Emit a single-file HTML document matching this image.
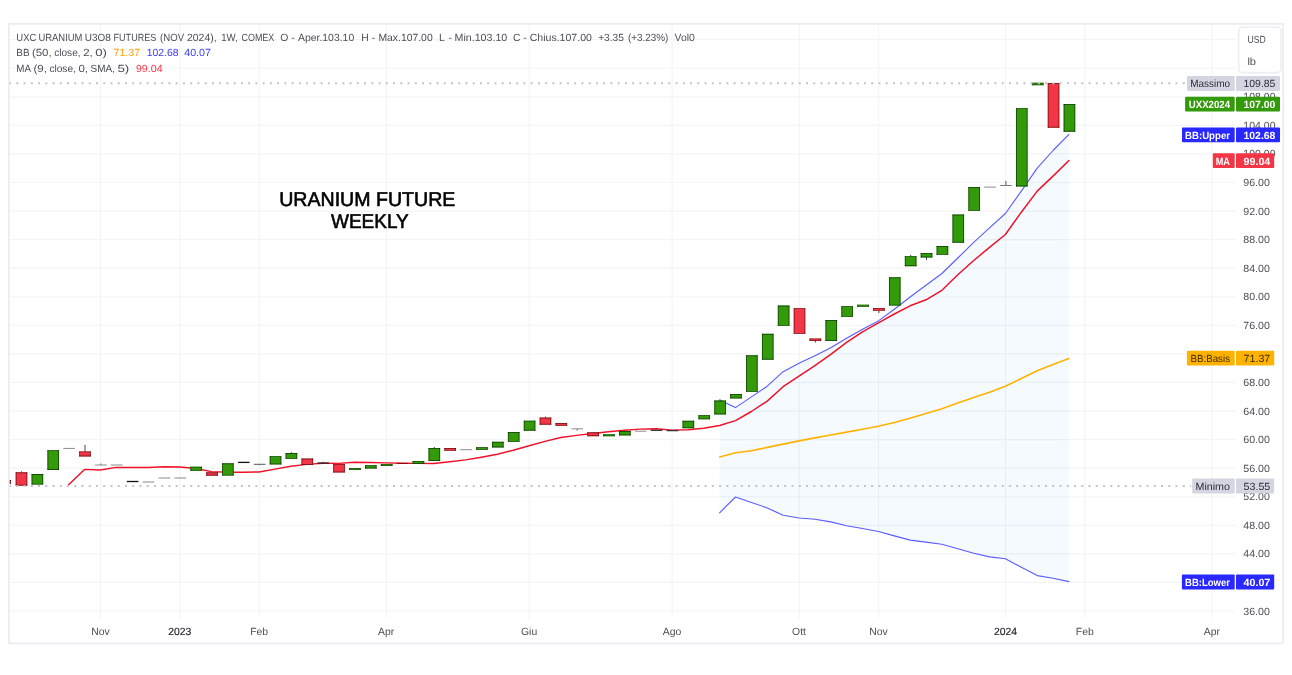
<!DOCTYPE html>
<html lang="it"><head><meta charset="utf-8"><title>UXC Uranium U3O8 Futures - Weekly</title>
<style>html,body{margin:0;padding:0;background:#fff;}body{width:1292px;height:675px;overflow:hidden;}svg{display:block;font-family:"Liberation Sans","DejaVu Sans",sans-serif;font-size:10.4px;text-rendering:geometricPrecision;}.ax{fill:#4c4f57}.b{font-weight:bold}</style></head><body>
<svg width="1292" height="675" viewBox="0 0 1292 675">
<rect width="1292" height="675" fill="#fff"/>
<defs><clipPath id="pane"><rect x="9" y="24" width="1227" height="594.5"/></clipPath></defs>
<g stroke="#f3f4f5" stroke-width="1.2" fill="none">
<path d="M9.5 611.00H1235.5"/>
<path d="M9.5 582.44H1235.5"/>
<path d="M9.5 553.87H1235.5"/>
<path d="M9.5 525.30H1235.5"/>
<path d="M9.5 496.73H1235.5"/>
<path d="M9.5 468.17H1235.5"/>
<path d="M9.5 439.60H1235.5"/>
<path d="M9.5 411.03H1235.5"/>
<path d="M9.5 382.47H1235.5"/>
<path d="M9.5 353.90H1235.5"/>
<path d="M9.5 325.33H1235.5"/>
<path d="M9.5 296.77H1235.5"/>
<path d="M9.5 268.20H1235.5"/>
<path d="M9.5 239.63H1235.5"/>
<path d="M9.5 211.07H1235.5"/>
<path d="M9.5 182.50H1235.5"/>
<path d="M9.5 153.93H1235.5"/>
<path d="M9.5 125.37H1235.5"/>
<path d="M9.5 96.80H1235.5"/>
<path d="M9.5 68.23H1235.5"/>
<path d="M9.5 39.67H1235.5"/>
<path d="M100.51 24.5V618.3"/>
<path d="M179.90 24.5V618.3"/>
<path d="M259.29 24.5V618.3"/>
<path d="M386.31 24.5V618.3"/>
<path d="M529.21 24.5V618.3"/>
<path d="M672.12 24.5V618.3"/>
<path d="M799.14 24.5V618.3"/>
<path d="M878.53 24.5V618.3"/>
<path d="M1005.55 24.5V618.3"/>
<path d="M1084.94 24.5V618.3"/>
<path d="M1211.97 24.5V618.3"/>
</g>
<path d="M719.6 399.9L735.5 407.6L751.4 396.9L767.2 386.2L783.1 371.7L799.0 363.2L814.9 355.8L830.8 347.8L846.6 338.3L862.5 329.2L878.4 320.9L894.3 309.2L910.1 297.0L926.0 285.2L941.9 273.5L957.8 258.0L973.7 242.4L989.5 227.9L1005.4 213.5L1021.3 191.1L1037.2 168.1L1053.0 150.5L1068.9 134.4L1068.9 581.6L1053.0 578.2L1037.2 575.6L1021.3 567.3L1005.4 558.8L989.5 556.9L973.7 553.3L957.8 548.7L941.9 544.3L926.0 542.1L910.1 540.1L894.3 535.9L878.4 531.5L862.5 528.5L846.6 525.7L830.8 521.9L814.9 519.2L799.0 518.0L783.1 515.3L767.2 507.9L751.4 502.4L735.5 497.0L719.6 512.8Z" fill="#2196f3" fill-opacity="0.05"/>
<path d="M719.6 456.9L735.5 452.7L751.4 450.7L767.2 447.4L783.1 444.1L799.0 440.9L814.9 437.9L830.8 435.0L846.6 432.1L862.5 429.2L878.4 426.3L894.3 422.5L910.1 418.2L926.0 413.5L941.9 408.8L957.8 403.1L973.7 397.6L989.5 392.2L1005.4 386.3L1021.3 378.5L1037.2 370.7L1053.0 364.5L1068.9 358.5" fill="none" stroke="#ffb300" stroke-width="1.6" stroke-linejoin="round" stroke-linecap="round"/>
<path d="M719.6 399.9L735.5 407.6L751.4 396.9L767.2 386.2L783.1 371.7L799.0 363.2L814.9 355.8L830.8 347.8L846.6 338.3L862.5 329.2L878.4 320.9L894.3 309.2L910.1 297.0L926.0 285.2L941.9 273.5L957.8 258.0L973.7 242.4L989.5 227.9L1005.4 213.5L1021.3 191.1L1037.2 168.1L1053.0 150.5L1068.9 134.4" fill="none" stroke="#5b5bff" stroke-width="1.1" stroke-linejoin="round" stroke-linecap="round"/>
<path d="M719.6 512.8L735.5 497.0L751.4 502.4L767.2 507.9L783.1 515.3L799.0 518.0L814.9 519.2L830.8 521.9L846.6 525.7L862.5 528.5L878.4 531.5L894.3 535.9L910.1 540.1L926.0 542.1L941.9 544.3L957.8 548.7L973.7 553.3L989.5 556.9L1005.4 558.8L1021.3 567.3L1037.2 575.6L1053.0 578.2L1068.9 581.6" fill="none" stroke="#5b5bff" stroke-width="1.1" stroke-linejoin="round" stroke-linecap="round"/>
<path d="M68.6 484.7L84.5 469.4L100.4 470.0L116.2 467.4L132.1 467.4L148.0 467.5L163.9 466.8L179.8 467.0L195.6 468.5L211.5 471.6L227.4 472.3L243.3 472.2L259.1 472.0L275.0 469.1L290.9 466.3L306.8 464.4L322.7 463.2L338.5 463.4L354.4 462.2L370.3 462.5L386.2 462.9L402.1 463.2L417.9 463.4L433.8 463.5L449.7 461.8L465.6 459.9L481.4 457.2L497.3 454.3L513.2 450.3L529.1 445.7L545.0 441.4L560.8 437.5L576.7 435.4L592.6 433.5L608.5 431.8L624.3 430.3L640.2 429.1L656.1 428.7L672.0 430.1L687.9 429.7L703.7 428.3L719.6 425.5L735.5 420.6L751.4 411.5L767.2 401.1L783.1 386.7L799.0 376.2L814.9 365.7L830.8 354.3L846.6 342.3L862.5 331.8L878.4 322.9L894.3 314.0L910.1 305.8L926.0 299.8L941.9 290.3L957.8 274.8L973.7 260.5L989.5 247.4L1005.4 234.5L1021.3 212.2L1037.2 191.1L1053.0 176.1L1068.9 160.5" fill="none" stroke="#f01028" stroke-width="1.45" stroke-linejoin="round" stroke-linecap="round"/>
<g clip-path="url(#pane)">
<rect x="-0.70" y="480.10" width="11.60" height="3.60" fill="#f23645"/>
<path d="M-0.70 480.10h11.60v0.90h-11.60zM-0.70 482.80h11.60v0.90h-11.60z" fill="rgba(70,0,0,0.6)"/>
<path d="M-0.70 480.10h0.90v3.60h-0.90zM10.00 480.10h0.90v3.60h-0.90z" fill="rgba(70,0,0,0.6)"/>
<path d="M21.48 471.3V472.8" stroke="#444" stroke-width="1"/>
<rect x="15.68" y="472.30" width="11.60" height="13.40" fill="#f23645"/>
<path d="M15.68 472.30h11.60v0.90h-11.60zM15.68 484.80h11.60v0.90h-11.60z" fill="rgba(70,0,0,0.6)"/>
<path d="M15.68 472.30h0.90v13.40h-0.90zM26.38 472.30h0.90v13.40h-0.90z" fill="rgba(70,0,0,0.6)"/>
<rect x="31.56" y="474.00" width="11.60" height="10.60" fill="#339a0a"/>
<path d="M31.56 474.00h11.60v0.90h-11.60zM31.56 483.70h11.60v0.90h-11.60z" fill="rgba(0,30,0,0.6)"/>
<path d="M31.56 474.00h0.90v10.60h-0.90zM42.26 474.00h0.90v10.60h-0.90z" fill="rgba(0,30,0,0.6)"/>
<rect x="47.43" y="450.20" width="11.60" height="19.80" fill="#339a0a"/>
<path d="M47.43 450.20h11.60v0.90h-11.60zM47.43 469.10h11.60v0.90h-11.60z" fill="rgba(0,30,0,0.6)"/>
<path d="M47.43 450.20h0.90v19.80h-0.90zM58.13 450.20h0.90v19.80h-0.90z" fill="rgba(0,30,0,0.6)"/>
<path d="M63.31 448.40H74.91" stroke="#8a8a8a" stroke-width="1"/>
<path d="M84.99 444.9V451.9" stroke="#444" stroke-width="1"/>
<rect x="79.19" y="451.40" width="11.60" height="5.10" fill="#f23645"/>
<path d="M79.19 451.40h11.60v0.90h-11.60zM79.19 455.60h11.60v0.90h-11.60z" fill="rgba(70,0,0,0.6)"/>
<path d="M79.19 451.40h0.90v5.10h-0.90zM89.89 451.40h0.90v5.10h-0.90z" fill="rgba(70,0,0,0.6)"/>
<path d="M100.87 463.6V465.0" stroke="#555" stroke-width="1"/>
<path d="M95.07 465.00H106.67" stroke="#8a8a8a" stroke-width="1"/>
<path d="M110.95 465.00H122.55" stroke="#8a8a8a" stroke-width="1"/>
<path d="M126.82 481.50H138.42" stroke="#111" stroke-width="1.3"/>
<path d="M142.70 482.00H154.30" stroke="#8a8a8a" stroke-width="1"/>
<path d="M158.58 478.00H170.18" stroke="#8a8a8a" stroke-width="1"/>
<path d="M174.46 478.00H186.06" stroke="#8a8a8a" stroke-width="1"/>
<rect x="190.34" y="466.70" width="11.60" height="4.10" fill="#339a0a"/>
<path d="M190.34 466.70h11.60v0.90h-11.60zM190.34 469.90h11.60v0.90h-11.60z" fill="rgba(0,30,0,0.6)"/>
<path d="M190.34 466.70h0.90v4.10h-0.90zM201.04 466.70h0.90v4.10h-0.90z" fill="rgba(0,30,0,0.6)"/>
<rect x="206.21" y="472.30" width="11.60" height="3.40" fill="#f23645"/>
<path d="M206.21 472.30h11.60v0.90h-11.60zM206.21 474.80h11.60v0.90h-11.60z" fill="rgba(70,0,0,0.6)"/>
<path d="M206.21 472.30h0.90v3.40h-0.90zM216.91 472.30h0.90v3.40h-0.90z" fill="rgba(70,0,0,0.6)"/>
<rect x="222.09" y="463.30" width="11.60" height="12.30" fill="#339a0a"/>
<path d="M222.09 463.30h11.60v0.90h-11.60zM222.09 474.70h11.60v0.90h-11.60z" fill="rgba(0,30,0,0.6)"/>
<path d="M222.09 463.30h0.90v12.30h-0.90zM232.79 463.30h0.90v12.30h-0.90z" fill="rgba(0,30,0,0.6)"/>
<path d="M237.97 462.40H249.57" stroke="#111" stroke-width="1.3"/>
<path d="M259.65 464.3V465.3" stroke="#555" stroke-width="1"/>
<path d="M253.85 464.30H265.45" stroke="#555" stroke-width="1"/>
<rect x="269.73" y="456.20" width="11.60" height="8.20" fill="#339a0a"/>
<path d="M269.73 456.20h11.60v0.90h-11.60zM269.73 463.50h11.60v0.90h-11.60z" fill="rgba(0,30,0,0.6)"/>
<path d="M269.73 456.20h0.90v8.20h-0.90zM280.43 456.20h0.90v8.20h-0.90z" fill="rgba(0,30,0,0.6)"/>
<path d="M291.40 452.1V453.5" stroke="#444" stroke-width="1"/>
<rect x="285.60" y="453.00" width="11.60" height="5.80" fill="#339a0a"/>
<path d="M285.60 453.00h11.60v0.90h-11.60zM285.60 457.90h11.60v0.90h-11.60z" fill="rgba(0,30,0,0.6)"/>
<path d="M285.60 453.00h0.90v5.80h-0.90zM296.30 453.00h0.90v5.80h-0.90z" fill="rgba(0,30,0,0.6)"/>
<rect x="301.48" y="458.50" width="11.60" height="6.50" fill="#f23645"/>
<path d="M301.48 458.50h11.60v0.90h-11.60zM301.48 464.10h11.60v0.90h-11.60z" fill="rgba(70,0,0,0.6)"/>
<path d="M301.48 458.50h0.90v6.50h-0.90zM312.18 458.50h0.90v6.50h-0.90z" fill="rgba(70,0,0,0.6)"/>
<path d="M323.16 461.8V463.1" stroke="#555" stroke-width="1"/>
<path d="M317.36 463.10H328.96" stroke="#222" stroke-width="1.3"/>
<rect x="333.24" y="463.90" width="11.60" height="8.60" fill="#f23645"/>
<path d="M333.24 463.90h11.60v0.90h-11.60zM333.24 471.60h11.60v0.90h-11.60z" fill="rgba(70,0,0,0.6)"/>
<path d="M333.24 463.90h0.90v8.60h-0.90zM343.94 463.90h0.90v8.60h-0.90z" fill="rgba(70,0,0,0.6)"/>
<rect x="349.12" y="468.10" width="11.60" height="1.90" fill="#339a0a"/>
<path d="M349.12 468.10h11.60v0.57h-11.60zM349.12 469.43h11.60v0.57h-11.60z" fill="rgba(0,30,0,0.6)"/>
<path d="M349.12 468.10h0.90v1.90h-0.90zM359.82 468.10h0.90v1.90h-0.90z" fill="rgba(0,30,0,0.6)"/>
<rect x="364.99" y="465.20" width="11.60" height="3.30" fill="#339a0a"/>
<path d="M364.99 465.20h11.60v0.90h-11.60zM364.99 467.60h11.60v0.90h-11.60z" fill="rgba(0,30,0,0.6)"/>
<path d="M364.99 465.20h0.90v3.30h-0.90zM375.69 465.20h0.90v3.30h-0.90z" fill="rgba(0,30,0,0.6)"/>
<rect x="380.87" y="463.90" width="11.60" height="2.00" fill="#339a0a"/>
<path d="M380.87 463.90h11.60v0.60h-11.60zM380.87 465.30h11.60v0.60h-11.60z" fill="rgba(0,30,0,0.6)"/>
<path d="M380.87 463.90h0.90v2.00h-0.90zM391.57 463.90h0.90v2.00h-0.90z" fill="rgba(0,30,0,0.6)"/>
<path d="M396.75 463.40H408.35" stroke="#7a1010" stroke-width="1"/>
<rect x="412.63" y="461.00" width="11.60" height="2.90" fill="#339a0a"/>
<path d="M412.63 461.00h11.60v0.87h-11.60zM412.63 463.03h11.60v0.87h-11.60z" fill="rgba(0,30,0,0.6)"/>
<path d="M412.63 461.00h0.90v2.90h-0.90zM423.33 461.00h0.90v2.90h-0.90z" fill="rgba(0,30,0,0.6)"/>
<path d="M434.31 447.0V448.6" stroke="#444" stroke-width="1"/>
<rect x="428.51" y="448.10" width="11.60" height="12.90" fill="#339a0a"/>
<path d="M428.51 448.10h11.60v0.90h-11.60zM428.51 460.10h11.60v0.90h-11.60z" fill="rgba(0,30,0,0.6)"/>
<path d="M428.51 448.10h0.90v12.90h-0.90zM439.21 448.10h0.90v12.90h-0.90z" fill="rgba(0,30,0,0.6)"/>
<rect x="444.38" y="448.10" width="11.60" height="2.60" fill="#f23645"/>
<path d="M444.38 448.10h11.60v0.78h-11.60zM444.38 449.92h11.60v0.78h-11.60z" fill="rgba(70,0,0,0.6)"/>
<path d="M444.38 448.10h0.90v2.60h-0.90zM455.08 448.10h0.90v2.60h-0.90z" fill="rgba(70,0,0,0.6)"/>
<path d="M460.26 449.70H471.86" stroke="#8a8a8a" stroke-width="1"/>
<rect x="476.14" y="447.20" width="11.60" height="2.60" fill="#339a0a"/>
<path d="M476.14 447.20h11.60v0.78h-11.60zM476.14 449.02h11.60v0.78h-11.60z" fill="rgba(0,30,0,0.6)"/>
<path d="M476.14 447.20h0.90v2.60h-0.90zM486.84 447.20h0.90v2.60h-0.90z" fill="rgba(0,30,0,0.6)"/>
<rect x="492.02" y="441.80" width="11.60" height="5.70" fill="#339a0a"/>
<path d="M492.02 441.80h11.60v0.90h-11.60zM492.02 446.60h11.60v0.90h-11.60z" fill="rgba(0,30,0,0.6)"/>
<path d="M492.02 441.80h0.90v5.70h-0.90zM502.72 441.80h0.90v5.70h-0.90z" fill="rgba(0,30,0,0.6)"/>
<rect x="507.90" y="432.10" width="11.60" height="9.70" fill="#339a0a"/>
<path d="M507.90 432.10h11.60v0.90h-11.60zM507.90 440.90h11.60v0.90h-11.60z" fill="rgba(0,30,0,0.6)"/>
<path d="M507.90 432.10h0.90v9.70h-0.90zM518.60 432.10h0.90v9.70h-0.90z" fill="rgba(0,30,0,0.6)"/>
<rect x="523.77" y="420.70" width="11.60" height="10.00" fill="#339a0a"/>
<path d="M523.77 420.70h11.60v0.90h-11.60zM523.77 429.80h11.60v0.90h-11.60z" fill="rgba(0,30,0,0.6)"/>
<path d="M523.77 420.70h0.90v10.00h-0.90zM534.47 420.70h0.90v10.00h-0.90z" fill="rgba(0,30,0,0.6)"/>
<path d="M545.45 416.5V418.1" stroke="#444" stroke-width="1"/>
<rect x="539.65" y="417.60" width="11.60" height="7.10" fill="#f23645"/>
<path d="M539.65 417.60h11.60v0.90h-11.60zM539.65 423.80h11.60v0.90h-11.60z" fill="rgba(70,0,0,0.6)"/>
<path d="M539.65 417.60h0.90v7.10h-0.90zM550.35 417.60h0.90v7.10h-0.90z" fill="rgba(70,0,0,0.6)"/>
<rect x="555.53" y="423.10" width="11.60" height="2.70" fill="#f23645"/>
<path d="M555.53 423.10h11.60v0.81h-11.60zM555.53 424.99h11.60v0.81h-11.60z" fill="rgba(70,0,0,0.6)"/>
<path d="M555.53 423.10h0.90v2.70h-0.90zM566.23 423.10h0.90v2.70h-0.90z" fill="rgba(70,0,0,0.6)"/>
<path d="M577.21 428.8V430.5" stroke="#555" stroke-width="1"/>
<path d="M571.41 428.80H583.01" stroke="#8a8a8a" stroke-width="1"/>
<rect x="587.29" y="432.30" width="11.60" height="3.90" fill="#f23645"/>
<path d="M587.29 432.30h11.60v0.90h-11.60zM587.29 435.30h11.60v0.90h-11.60z" fill="rgba(70,0,0,0.6)"/>
<path d="M587.29 432.30h0.90v3.90h-0.90zM597.99 432.30h0.90v3.90h-0.90z" fill="rgba(70,0,0,0.6)"/>
<rect x="603.16" y="434.20" width="11.60" height="2.00" fill="#339a0a"/>
<path d="M603.16 434.20h11.60v0.60h-11.60zM603.16 435.60h11.60v0.60h-11.60z" fill="rgba(0,30,0,0.6)"/>
<path d="M603.16 434.20h0.90v2.00h-0.90zM613.86 434.20h0.90v2.00h-0.90z" fill="rgba(0,30,0,0.6)"/>
<rect x="619.04" y="431.00" width="11.60" height="4.40" fill="#339a0a"/>
<path d="M619.04 431.00h11.60v0.90h-11.60zM619.04 434.50h11.60v0.90h-11.60z" fill="rgba(0,30,0,0.6)"/>
<path d="M619.04 431.00h0.90v4.40h-0.90zM629.74 431.00h0.90v4.40h-0.90z" fill="rgba(0,30,0,0.6)"/>
<path d="M634.92 431.20H646.52" stroke="#8a8a8a" stroke-width="1"/>
<path d="M650.80 430.30H662.40" stroke="#333" stroke-width="1.3"/>
<path d="M666.68 430.60H678.28" stroke="#333" stroke-width="1.3"/>
<rect x="682.55" y="420.80" width="11.60" height="7.40" fill="#339a0a"/>
<path d="M682.55 420.80h11.60v0.90h-11.60zM682.55 427.30h11.60v0.90h-11.60z" fill="rgba(0,30,0,0.6)"/>
<path d="M682.55 420.80h0.90v7.40h-0.90zM693.25 420.80h0.90v7.40h-0.90z" fill="rgba(0,30,0,0.6)"/>
<rect x="698.43" y="415.20" width="11.60" height="4.10" fill="#339a0a"/>
<path d="M698.43 415.20h11.60v0.90h-11.60zM698.43 418.40h11.60v0.90h-11.60z" fill="rgba(0,30,0,0.6)"/>
<path d="M698.43 415.20h0.90v4.10h-0.90zM709.13 415.20h0.90v4.10h-0.90z" fill="rgba(0,30,0,0.6)"/>
<path d="M720.11 399.6V401.0" stroke="#444" stroke-width="1"/>
<rect x="714.31" y="400.50" width="11.60" height="13.90" fill="#339a0a"/>
<path d="M714.31 400.50h11.60v0.90h-11.60zM714.31 413.50h11.60v0.90h-11.60z" fill="rgba(0,30,0,0.6)"/>
<path d="M714.31 400.50h0.90v13.90h-0.90zM725.01 400.50h0.90v13.90h-0.90z" fill="rgba(0,30,0,0.6)"/>
<rect x="730.19" y="394.10" width="11.60" height="4.30" fill="#339a0a"/>
<path d="M730.19 394.10h11.60v0.90h-11.60zM730.19 397.50h11.60v0.90h-11.60z" fill="rgba(0,30,0,0.6)"/>
<path d="M730.19 394.10h0.90v4.30h-0.90zM740.89 394.10h0.90v4.30h-0.90z" fill="rgba(0,30,0,0.6)"/>
<rect x="746.07" y="355.30" width="11.60" height="36.50" fill="#339a0a"/>
<path d="M746.07 355.30h11.60v0.90h-11.60zM746.07 390.90h11.60v0.90h-11.60z" fill="rgba(0,30,0,0.6)"/>
<path d="M746.07 355.30h0.90v36.50h-0.90zM756.77 355.30h0.90v36.50h-0.90z" fill="rgba(0,30,0,0.6)"/>
<rect x="761.94" y="333.80" width="11.60" height="25.90" fill="#339a0a"/>
<path d="M761.94 333.80h11.60v0.90h-11.60zM761.94 358.80h11.60v0.90h-11.60z" fill="rgba(0,30,0,0.6)"/>
<path d="M761.94 333.80h0.90v25.90h-0.90zM772.64 333.80h0.90v25.90h-0.90z" fill="rgba(0,30,0,0.6)"/>
<rect x="777.82" y="305.50" width="11.60" height="20.30" fill="#339a0a"/>
<path d="M777.82 305.50h11.60v0.90h-11.60zM777.82 324.90h11.60v0.90h-11.60z" fill="rgba(0,30,0,0.6)"/>
<path d="M777.82 305.50h0.90v20.30h-0.90zM788.52 305.50h0.90v20.30h-0.90z" fill="rgba(0,30,0,0.6)"/>
<rect x="793.70" y="308.20" width="11.60" height="25.60" fill="#f23645"/>
<path d="M793.70 308.20h11.60v0.90h-11.60zM793.70 332.90h11.60v0.90h-11.60z" fill="rgba(70,0,0,0.6)"/>
<path d="M793.70 308.20h0.90v25.60h-0.90zM804.40 308.20h0.90v25.60h-0.90z" fill="rgba(70,0,0,0.6)"/>
<path d="M815.38 340.5V342.5" stroke="#444" stroke-width="1"/>
<rect x="809.58" y="338.50" width="11.60" height="2.50" fill="#f23645"/>
<path d="M809.58 338.50h11.60v0.75h-11.60zM809.58 340.25h11.60v0.75h-11.60z" fill="rgba(70,0,0,0.6)"/>
<path d="M809.58 338.50h0.90v2.50h-0.90zM820.28 338.50h0.90v2.50h-0.90z" fill="rgba(70,0,0,0.6)"/>
<rect x="825.46" y="320.10" width="11.60" height="20.80" fill="#339a0a"/>
<path d="M825.46 320.10h11.60v0.90h-11.60zM825.46 340.00h11.60v0.90h-11.60z" fill="rgba(0,30,0,0.6)"/>
<path d="M825.46 320.10h0.90v20.80h-0.90zM836.16 320.10h0.90v20.80h-0.90z" fill="rgba(0,30,0,0.6)"/>
<rect x="841.33" y="306.20" width="11.60" height="10.60" fill="#339a0a"/>
<path d="M841.33 306.20h11.60v0.90h-11.60zM841.33 315.90h11.60v0.90h-11.60z" fill="rgba(0,30,0,0.6)"/>
<path d="M841.33 306.20h0.90v10.60h-0.90zM852.03 306.20h0.90v10.60h-0.90z" fill="rgba(0,30,0,0.6)"/>
<rect x="857.21" y="304.70" width="11.60" height="2.00" fill="#339a0a"/>
<path d="M857.21 304.70h11.60v0.60h-11.60zM857.21 306.10h11.60v0.60h-11.60z" fill="rgba(0,30,0,0.6)"/>
<path d="M857.21 304.70h0.90v2.00h-0.90zM867.91 304.70h0.90v2.00h-0.90z" fill="rgba(0,30,0,0.6)"/>
<path d="M878.89 310.2V313.0" stroke="#444" stroke-width="1"/>
<rect x="873.09" y="308.00" width="11.60" height="2.70" fill="#f23645"/>
<path d="M873.09 308.00h11.60v0.81h-11.60zM873.09 309.89h11.60v0.81h-11.60z" fill="rgba(70,0,0,0.6)"/>
<path d="M873.09 308.00h0.90v2.70h-0.90zM883.79 308.00h0.90v2.70h-0.90z" fill="rgba(70,0,0,0.6)"/>
<rect x="888.97" y="277.30" width="11.60" height="28.30" fill="#339a0a"/>
<path d="M888.97 277.30h11.60v0.90h-11.60zM888.97 304.70h11.60v0.90h-11.60z" fill="rgba(0,30,0,0.6)"/>
<path d="M888.97 277.30h0.90v28.30h-0.90zM899.67 277.30h0.90v28.30h-0.90z" fill="rgba(0,30,0,0.6)"/>
<path d="M910.65 254.9V256.7" stroke="#444" stroke-width="1"/>
<rect x="904.85" y="256.20" width="11.60" height="10.00" fill="#339a0a"/>
<path d="M904.85 256.20h11.60v0.90h-11.60zM904.85 265.30h11.60v0.90h-11.60z" fill="rgba(0,30,0,0.6)"/>
<path d="M904.85 256.20h0.90v10.00h-0.90zM915.55 256.20h0.90v10.00h-0.90z" fill="rgba(0,30,0,0.6)"/>
<path d="M926.52 257.0V259.9" stroke="#444" stroke-width="1"/>
<rect x="920.72" y="253.10" width="11.60" height="4.40" fill="#339a0a"/>
<path d="M920.72 253.10h11.60v0.90h-11.60zM920.72 256.60h11.60v0.90h-11.60z" fill="rgba(0,30,0,0.6)"/>
<path d="M920.72 253.10h0.90v4.40h-0.90zM931.42 253.10h0.90v4.40h-0.90z" fill="rgba(0,30,0,0.6)"/>
<rect x="936.60" y="246.00" width="11.60" height="8.80" fill="#339a0a"/>
<path d="M936.60 246.00h11.60v0.90h-11.60zM936.60 253.90h11.60v0.90h-11.60z" fill="rgba(0,30,0,0.6)"/>
<path d="M936.60 246.00h0.90v8.80h-0.90zM947.30 246.00h0.90v8.80h-0.90z" fill="rgba(0,30,0,0.6)"/>
<rect x="952.48" y="214.50" width="11.60" height="28.20" fill="#339a0a"/>
<path d="M952.48 214.50h11.60v0.90h-11.60zM952.48 241.80h11.60v0.90h-11.60z" fill="rgba(0,30,0,0.6)"/>
<path d="M952.48 214.50h0.90v28.20h-0.90zM963.18 214.50h0.90v28.20h-0.90z" fill="rgba(0,30,0,0.6)"/>
<rect x="968.36" y="187.10" width="11.60" height="23.70" fill="#339a0a"/>
<path d="M968.36 187.10h11.60v0.90h-11.60zM968.36 209.90h11.60v0.90h-11.60z" fill="rgba(0,30,0,0.6)"/>
<path d="M968.36 187.10h0.90v23.70h-0.90zM979.06 187.10h0.90v23.70h-0.90z" fill="rgba(0,30,0,0.6)"/>
<path d="M984.24 187.10H995.84" stroke="#8a8a8a" stroke-width="1"/>
<path d="M1005.91 180.9V185.5" stroke="#555" stroke-width="1"/>
<path d="M1000.11 185.50H1011.71" stroke="#777" stroke-width="1"/>
<rect x="1015.99" y="108.20" width="11.60" height="78.30" fill="#339a0a"/>
<path d="M1015.99 108.20h11.60v0.90h-11.60zM1015.99 185.60h11.60v0.90h-11.60z" fill="rgba(0,30,0,0.6)"/>
<path d="M1015.99 108.20h0.90v78.30h-0.90zM1026.69 108.20h0.90v78.30h-0.90z" fill="rgba(0,30,0,0.6)"/>
<rect x="1031.87" y="82.80" width="11.60" height="2.40" fill="#339a0a"/>
<path d="M1031.87 82.80h11.60v0.72h-11.60zM1031.87 84.48h11.60v0.72h-11.60z" fill="rgba(0,30,0,0.6)"/>
<path d="M1031.87 82.80h0.90v2.40h-0.90zM1042.57 82.80h0.90v2.40h-0.90z" fill="rgba(0,30,0,0.6)"/>
<rect x="1047.75" y="83.10" width="11.60" height="44.60" fill="#f23645"/>
<path d="M1047.75 83.10h11.60v0.90h-11.60zM1047.75 126.80h11.60v0.90h-11.60z" fill="rgba(70,0,0,0.6)"/>
<path d="M1047.75 83.10h0.90v44.60h-0.90zM1058.45 83.10h0.90v44.60h-0.90z" fill="rgba(70,0,0,0.6)"/>
<rect x="1063.63" y="104.10" width="11.60" height="27.60" fill="#339a0a"/>
<path d="M1063.63 104.10h11.60v0.90h-11.60zM1063.63 130.80h11.60v0.90h-11.60z" fill="rgba(0,30,0,0.6)"/>
<path d="M1063.63 104.10h0.90v27.60h-0.90zM1074.33 104.10h0.90v27.60h-0.90z" fill="rgba(0,30,0,0.6)"/>
</g>
<path d="M9.06 83.30H1186.0" stroke="#c0c3d0" stroke-width="2" stroke-dasharray="2 5.245" fill="none"/>
<path d="M9.06 486.00H1191.0" stroke="#c0c3d0" stroke-width="2" stroke-dasharray="2 5.245" fill="none"/>
<rect x="8.9" y="23.9" width="1274.2" height="619.5" fill="none" stroke="#eaecf3" stroke-width="1.6"/>
<g fill="#000" stroke="#000" stroke-width="0.6" stroke-linejoin="round" font-size="20px" text-anchor="middle">
<text x="367.3" y="206.3" textLength="176.2" lengthAdjust="spacingAndGlyphs">URANIUM FUTURE</text>
<text x="369.9" y="228.1" textLength="77.8" lengthAdjust="spacingAndGlyphs">WEEKLY</text>
</g>
<text x="16.3" y="41.0" textLength="20.1" lengthAdjust="spacingAndGlyphs" fill="#4c4f57">UXC</text>
<text x="38.4" y="41.0" textLength="44.1" lengthAdjust="spacingAndGlyphs" fill="#4c4f57">URANIUM</text>
<text x="84.8" y="41.0" textLength="25.9" lengthAdjust="spacingAndGlyphs" fill="#4c4f57">U3O8</text>
<text x="113.6" y="41.0" textLength="42.6" lengthAdjust="spacingAndGlyphs" fill="#4c4f57">FUTURES</text>
<text x="160.1" y="41.0" textLength="24.0" lengthAdjust="spacingAndGlyphs" fill="#4c4f57">(NOV</text>
<text x="187.0" y="41.0" textLength="29.6" lengthAdjust="spacingAndGlyphs" fill="#4c4f57">2024),</text>
<text x="221.2" y="41.0" textLength="16.6" lengthAdjust="spacingAndGlyphs" fill="#4c4f57">1W,</text>
<text x="241.5" y="41.0" textLength="32.8" lengthAdjust="spacingAndGlyphs" fill="#4c4f57">COMEX</text>
<text x="284.2" y="41.0" text-anchor="middle" fill="#4c4f57">O</text>
<text x="293.0" y="41.0" text-anchor="middle" fill="#4c4f57">-</text>
<text x="298.0" y="41.0" textLength="56.2" lengthAdjust="spacingAndGlyphs" fill="#4c4f57">Aper.103.10</text>
<text x="364.9" y="41.0" text-anchor="middle" fill="#4c4f57">H</text>
<text x="373.6" y="41.0" text-anchor="middle" fill="#4c4f57">-</text>
<text x="378.4" y="41.0" textLength="54.3" lengthAdjust="spacingAndGlyphs" fill="#4c4f57">Max.107.00</text>
<text x="442.0" y="41.0" text-anchor="middle" fill="#4c4f57">L</text>
<text x="450.3" y="41.0" text-anchor="middle" fill="#4c4f57">-</text>
<text x="454.5" y="41.0" textLength="52.8" lengthAdjust="spacingAndGlyphs" fill="#4c4f57">Min.103.10</text>
<text x="516.7" y="41.0" text-anchor="middle" fill="#4c4f57">C</text>
<text x="525.0" y="41.0" text-anchor="middle" fill="#4c4f57">-</text>
<text x="529.7" y="41.0" textLength="62.2" lengthAdjust="spacingAndGlyphs" fill="#4c4f57">Chius.107.00</text>
<text x="598.2" y="41.0" textLength="25.7" lengthAdjust="spacingAndGlyphs" fill="#4c4f57">+3.35</text>
<text x="627.9" y="41.0" textLength="40.5" lengthAdjust="spacingAndGlyphs" fill="#4c4f57">(+3.23%)</text>
<text x="674.5" y="41.0" textLength="20.3" lengthAdjust="spacingAndGlyphs" fill="#4c4f57">Vol0</text>
<text x="16.3" y="56.3" textLength="13.3" lengthAdjust="spacingAndGlyphs" fill="#4c4f57">BB</text>
<text x="31.9" y="56.3" textLength="19.8" lengthAdjust="spacingAndGlyphs" fill="#4c4f57">(50,</text>
<text x="54.2" y="56.3" textLength="26.4" lengthAdjust="spacingAndGlyphs" fill="#4c4f57">close,</text>
<text x="83.2" y="56.3" textLength="9.5" lengthAdjust="spacingAndGlyphs" fill="#4c4f57">2,</text>
<text x="95.2" y="56.3" textLength="11.8" lengthAdjust="spacingAndGlyphs" fill="#4c4f57">0)</text>
<text x="113.6" y="56.3" textLength="26.5" lengthAdjust="spacingAndGlyphs" fill="#ffa000">71.37</text>
<text x="146.7" y="56.3" textLength="31.8" lengthAdjust="spacingAndGlyphs" fill="#3a3aff">102.68</text>
<text x="184.2" y="56.3" textLength="26.8" lengthAdjust="spacingAndGlyphs" fill="#3a3aff">40.07</text>
<text x="16.3" y="71.5" textLength="14.7" lengthAdjust="spacingAndGlyphs" fill="#4c4f57">MA</text>
<text x="33.4" y="71.5" textLength="13.5" lengthAdjust="spacingAndGlyphs" fill="#4c4f57">(9,</text>
<text x="49.4" y="71.5" textLength="26.5" lengthAdjust="spacingAndGlyphs" fill="#4c4f57">close,</text>
<text x="78.4" y="71.5" textLength="9.6" lengthAdjust="spacingAndGlyphs" fill="#4c4f57">0,</text>
<text x="90.5" y="71.5" textLength="24.3" lengthAdjust="spacingAndGlyphs" fill="#4c4f57">SMA,</text>
<text x="117.4" y="71.5" textLength="11.9" lengthAdjust="spacingAndGlyphs" fill="#4c4f57">5)</text>
<text x="135.9" y="71.5" textLength="26.8" lengthAdjust="spacingAndGlyphs" fill="#f23645">99.04</text>
<g class="ax" text-anchor="middle">
<text x="100.4" y="634.7">Nov</text>
<text x="179.8" y="634.7" fill="#1b1e27" stroke="#1b1e27" stroke-width="0.15">2023</text>
<text x="259.2" y="634.7">Feb</text>
<text x="386.2" y="634.7">Apr</text>
<text x="529.1" y="634.7">Giu</text>
<text x="672.0" y="634.7">Ago</text>
<text x="799.0" y="634.7">Ott</text>
<text x="878.4" y="634.7">Nov</text>
<text x="1005.5" y="634.7" fill="#1b1e27" stroke="#1b1e27" stroke-width="0.15">2024</text>
<text x="1084.8" y="634.7">Feb</text>
<text x="1211.9" y="634.7">Apr</text>
</g>
<g class="ax">
<text x="1243.3" y="614.5" textLength="26.6" lengthAdjust="spacingAndGlyphs">36.00</text>
<text x="1243.3" y="557.4" textLength="26.6" lengthAdjust="spacingAndGlyphs">44.00</text>
<text x="1243.3" y="528.8" textLength="26.6" lengthAdjust="spacingAndGlyphs">48.00</text>
<text x="1243.3" y="500.2" textLength="26.6" lengthAdjust="spacingAndGlyphs">52.00</text>
<text x="1243.3" y="471.7" textLength="26.6" lengthAdjust="spacingAndGlyphs">56.00</text>
<text x="1243.3" y="443.1" textLength="26.6" lengthAdjust="spacingAndGlyphs">60.00</text>
<text x="1243.3" y="414.5" textLength="26.6" lengthAdjust="spacingAndGlyphs">64.00</text>
<text x="1243.3" y="386.0" textLength="26.6" lengthAdjust="spacingAndGlyphs">68.00</text>
<text x="1243.3" y="328.8" textLength="26.6" lengthAdjust="spacingAndGlyphs">76.00</text>
<text x="1243.3" y="300.3" textLength="26.6" lengthAdjust="spacingAndGlyphs">80.00</text>
<text x="1243.3" y="271.7" textLength="26.6" lengthAdjust="spacingAndGlyphs">84.00</text>
<text x="1243.3" y="243.1" textLength="26.6" lengthAdjust="spacingAndGlyphs">88.00</text>
<text x="1243.3" y="214.6" textLength="26.6" lengthAdjust="spacingAndGlyphs">92.00</text>
<text x="1243.3" y="186.0" textLength="26.6" lengthAdjust="spacingAndGlyphs">96.00</text>
<text x="1243.3" y="157.4" textLength="32.2" lengthAdjust="spacingAndGlyphs">100.00</text>
<text x="1243.3" y="128.9" textLength="32.2" lengthAdjust="spacingAndGlyphs">104.00</text>
<text x="1243.3" y="100.3" textLength="32.2" lengthAdjust="spacingAndGlyphs">108.00</text>
</g>
<rect x="1238.7" y="27.0" width="42.3" height="45.6" rx="4" ry="4" fill="#fff" stroke="#eceef3" stroke-width="1.6"/>
<text x="1247.4" y="43.0" class="ax" textLength="18.3" lengthAdjust="spacingAndGlyphs">USD</text>
<text x="1247.4" y="65.0" class="ax" textLength="8.6" lengthAdjust="spacingAndGlyphs">lb</text>
<rect x="1187.0" y="76.1" width="47.7" height="14.8" fill="#d3d6e0" rx="1"/>
<rect x="1236" y="76.1" width="44.0" height="14.8" fill="#d3d6e0" rx="1"/>
<text x="1190.2" y="86.8" textLength="39.8" lengthAdjust="spacingAndGlyphs" fill="#2a2e39">Massimo</text>
<text x="1243.5" y="86.8" textLength="31.9" lengthAdjust="spacingAndGlyphs" fill="#2a2e39">109.85</text>
<rect x="1185.1" y="96.8" width="49.6" height="14.8" fill="#339a0a" rx="1"/>
<rect x="1236" y="96.8" width="44.0" height="14.8" fill="#339a0a" rx="1"/>
<text x="1188.8" y="107.6" textLength="41.2" lengthAdjust="spacingAndGlyphs" fill="#fff" class="b">UXX2024</text>
<text x="1243.5" y="107.6" textLength="31.9" lengthAdjust="spacingAndGlyphs" fill="#fff" class="b">107.00</text>
<rect x="1182.0" y="127.5" width="52.7" height="14.8" fill="#2828ff" rx="1"/>
<rect x="1236" y="127.5" width="44.0" height="14.8" fill="#2828ff" rx="1"/>
<text x="1185.0" y="138.5" textLength="45.0" lengthAdjust="spacingAndGlyphs" fill="#fff" class="b">BB:Upper</text>
<text x="1243.5" y="138.5" textLength="31.9" lengthAdjust="spacingAndGlyphs" fill="#fff" class="b">102.68</text>
<rect x="1212.8" y="153.3" width="21.9" height="14.8" fill="#f23645" rx="1"/>
<rect x="1236" y="153.3" width="38.2" height="14.8" fill="#f23645" rx="1"/>
<text x="1215.7" y="164.5" textLength="14.3" lengthAdjust="spacingAndGlyphs" fill="#fff" class="b">MA</text>
<text x="1243.5" y="164.5" textLength="26.8" lengthAdjust="spacingAndGlyphs" fill="#fff" class="b">99.04</text>
<rect x="1186.9" y="350.7" width="47.8" height="14.8" fill="#ffb300" rx="1"/>
<rect x="1236" y="350.7" width="38.2" height="14.8" fill="#ffb300" rx="1"/>
<text x="1190.5" y="361.9" textLength="39.5" lengthAdjust="spacingAndGlyphs" fill="#3a2a00">BB:Basis</text>
<text x="1243.5" y="361.9" textLength="26.8" lengthAdjust="spacingAndGlyphs" fill="#3a2a00">71.37</text>
<rect x="1192.2" y="478.6" width="42.5" height="14.8" fill="#d3d6e0" rx="1"/>
<rect x="1236" y="478.6" width="38.2" height="14.8" fill="#d3d6e0" rx="1"/>
<text x="1195.5" y="489.5" textLength="34.5" lengthAdjust="spacingAndGlyphs" fill="#2a2e39">Minimo</text>
<text x="1243.5" y="489.5" textLength="26.8" lengthAdjust="spacingAndGlyphs" fill="#2a2e39">53.55</text>
<rect x="1181.9" y="574.6" width="52.8" height="14.8" fill="#2828ff" rx="1"/>
<rect x="1236" y="574.6" width="38.2" height="14.8" fill="#2828ff" rx="1"/>
<text x="1185.0" y="585.6" textLength="45.0" lengthAdjust="spacingAndGlyphs" fill="#fff" class="b">BB:Lower</text>
<text x="1243.5" y="585.6" textLength="26.8" lengthAdjust="spacingAndGlyphs" fill="#fff" class="b">40.07</text>
</svg></body></html>
